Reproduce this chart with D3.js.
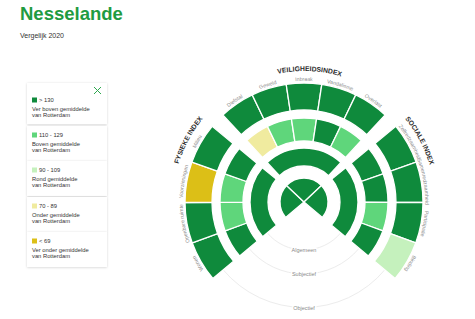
<!DOCTYPE html>
<html><head><meta charset="utf-8">
<script src="https://cdn.jsdelivr.net/npm/d3@7"></script>
<style>
html,body{margin:0;padding:0;background:#fff;}
svg{display:block;font-family:"Liberation Sans",Arial,sans-serif;}
</style></head><body>
<svg id="chart" width="475" height="319"></svg>
<script>
// ---------- data ----------
const indexNames = ["FYSIEKE INDEX", "VEILIGHEIDSINDEX", "SOCIALE INDEX"];
const themesFysiek = ["Wonen", "Openbare ruimte", "Voorzieningen", "Milieu"];
const themesVeiligheid = ["Diefstal", "Geweld", "Inbraak", "Vandalisme", "Overlast"];
const themesSociaal = ["Zelfredzaamheid", "Samenredzaamheid", "Participatie", "Binding"];
const indexScores = [136, 142, 135];          // centre
const algemeenScores = [134, 140, 133];       // ring "Algemeen"
const subjFysiek = [132, 118, 116, 134];
const subjVeiligheid = [82, 122, 120, 133, 118];
const subjSociaal = [138, 135, 124, 132];
const objFysiek = [145, 140, 62, 150];
const objVeiligheid = [160, 150, 155, 140, 148];
const objSociaal = [140, 138, 136, 104];
const ringNames = ["Algemeen", "Subjectief", "Objectief"];
const legendRanges = ["> 130", "110 - 129", "90 - 109", "70 - 89", "< 69"];
const legendLine1 = ["Ver boven gemiddelde", "Boven gemiddelde", "Rond gemiddelde", "Onder gemiddelde", "Ver onder gemiddelde"];
const legendLine2 = ["van Rotterdam", "van Rotterdam", "van Rotterdam", "van Rotterdam", "van Rotterdam"];
const thresholds = [70, 90, 110, 130];
const palette = ["#dcbf17", "#f0eb9f", "#c5f1bd", "#5fd67b", "#0f8a3c"];
const legendColors = [palette[4], palette[3], palette[2], palette[1], palette[0]];

// ---------- layout ----------
const svg = d3.select("#chart");
const cx = 304, cy = 202;
const deg = Math.PI / 180;
const groupRanges = [[-130, -50.5], [-43, 43], [50.5, 130]];
const pieRanges = [[-130, -46.7], [-46.7, 46.7], [46.7, 130]];
const R = { pie: [0, 24], alg: [36, 54], subj: [61, 84], obj: [92, 119] };
const color = d3.scaleThreshold().domain(thresholds).range(palette);

const groups = [
  { themes: themesFysiek, subj: subjFysiek, obj: objFysiek },
  { themes: themesVeiligheid, subj: subjVeiligheid, obj: objVeiligheid },
  { themes: themesSociaal, subj: subjSociaal, obj: objSociaal }
];

const g = svg.append("g").attr("transform", `translate(${cx},${cy})`);
const arc = d3.arc();

function pt(a, r) { return [r * Math.sin(a * deg), -r * Math.cos(a * deg)]; }
function arcPath(a0, a1, r) {
  const p0 = pt(a0, r), p1 = pt(a1, r);
  const large = (a1 - a0) > 180 ? 1 : 0;
  return `M${p0[0]},${p0[1]}A${r},${r} 0 ${large} 1 ${p1[0]},${p1[1]}`;
}

// faint guide arcs in the bottom gap
const guideR = [48, 72, 105.5];
guideR.forEach(r => {
  g.append("path").attr("d", arcPath(130, 230, r))
    .attr("fill", "none").attr("stroke", "#ececec").attr("stroke-width", 1);
});

function seg(a0, a1, rr, val) {
  g.append("path")
    .attr("d", arc({ innerRadius: rr[0], outerRadius: rr[1], startAngle: a0 * deg, endAngle: a1 * deg }))
    .attr("fill", color(val)).attr("stroke", "#fff").attr("stroke-width", 1.3);
}

// centre pie
indexScores.forEach((v, i) => seg(pieRanges[i][0], pieRanges[i][1], R.pie, v));
// Algemeen
algemeenScores.forEach((v, i) => seg(groupRanges[i][0], groupRanges[i][1], R.alg, v));
// themes
groups.forEach((gr, i) => {
  const n = gr.themes.length;
  const sc = d3.scaleLinear().domain([0, n]).range(groupRanges[i]);
  gr.subj.forEach((v, j) => seg(sc(j), sc(j + 1), R.subj, v));
  gr.obj.forEach((v, j) => seg(sc(j), sc(j + 1), R.obj, v));
  // theme labels
  gr.themes.forEach((t, j) => {
    const mid = (sc(j) + sc(j + 1)) / 2;
    const id = `th${i}_${j}`;
    g.append("path").attr("id", id).attr("d", arcPath(mid - 60, mid + 60, 121.2)).attr("fill", "none");
    g.append("text").attr("font-size", 5.2).attr("fill", "#8a8a8a")
      .append("textPath").attr("href", "#" + id).attr("startOffset", "50%")
      .attr("text-anchor", "middle").text(t);
  });
});

// index labels
const rIdx = 131;
const idxDefs = [
  { d: arcPath(-110, -50.5, rIdx), anchor: "end", off: "100%" },
  { d: arcPath(2.5 - 60, 2.5 + 60, rIdx), anchor: "middle", off: "50%" },
  { d: arcPath(50.5, 110, rIdx), anchor: "start", off: "0%" }
];
idxDefs.forEach((dd, i) => {
  g.append("path").attr("id", "ix" + i).attr("d", dd.d).attr("fill", "none");
  g.append("text").attr("font-size", 6.8).attr("font-weight", "bold").attr("fill", "#2b2b2b")
    .append("textPath").attr("href", "#ix" + i).attr("startOffset", dd.off)
    .attr("text-anchor", dd.anchor).text(indexNames[i]);
});

// ring names
ringNames.forEach((t, i) => {
  g.append("text").attr("x", 0).attr("y", guideR[i] + 2)
    .attr("text-anchor", "middle").attr("font-size", 5.5).attr("fill", "#8a8a8a")
    .attr("stroke", "#fff").attr("stroke-width", 3).attr("paint-order", "stroke")
    .text(t);
});

// title
svg.append("text").attr("x", 20).attr("y", 20).attr("font-size", 18.5).attr("font-weight", "bold")
  .attr("fill", "#1f9b41").text("Nesselande");
svg.append("text").attr("x", 20).attr("y", 38).attr("font-size", 7).attr("fill", "#333").text("Vergelijk 2020");

// legend
const lg = svg.append("g").attr("transform", "translate(27,83)");
const boxes = [[0, 41], [43, 35], [78, 35], [114, 35], [149, 35]];
lg.append("defs").append("filter").attr("id", "sh").attr("x", "-10%").attr("y", "-10%").attr("width", "120%").attr("height", "130%")
  .append("feDropShadow").attr("dx", 0).attr("dy", 0.5).attr("stdDeviation", 0.8).attr("flood-color", "#000").attr("flood-opacity", 0.18);
boxes.forEach(b => {
  lg.append("rect").attr("x", 0).attr("y", b[0]).attr("width", 80).attr("height", b[1])
    .attr("fill", "#fff").attr("filter", "url(#sh)");
});
// close icon
lg.append("path").attr("d", "M67,4L74,11M74,4L67,11").attr("stroke", "#2ea84f").attr("stroke-width", 1);
const entryY = [19, 54, 89, 125, 160];
legendRanges.forEach((r, i) => {
  const y = entryY[i];
  lg.append("rect").attr("x", 5).attr("y", y - 4.5).attr("width", 5).attr("height", 5).attr("fill", legendColors[i]);
  lg.append("text").attr("x", 12).attr("y", y).attr("font-size", 5.8).attr("fill", "#333").text(r);
  lg.append("text").attr("x", 5).attr("y", y + 8.5).attr("font-size", 5.8).attr("fill", "#333").text(legendLine1[i]);
  lg.append("text").attr("x", 5).attr("y", y + 15).attr("font-size", 5.8).attr("fill", "#333").text(legendLine2[i]);
});
</script>
</body></html>
